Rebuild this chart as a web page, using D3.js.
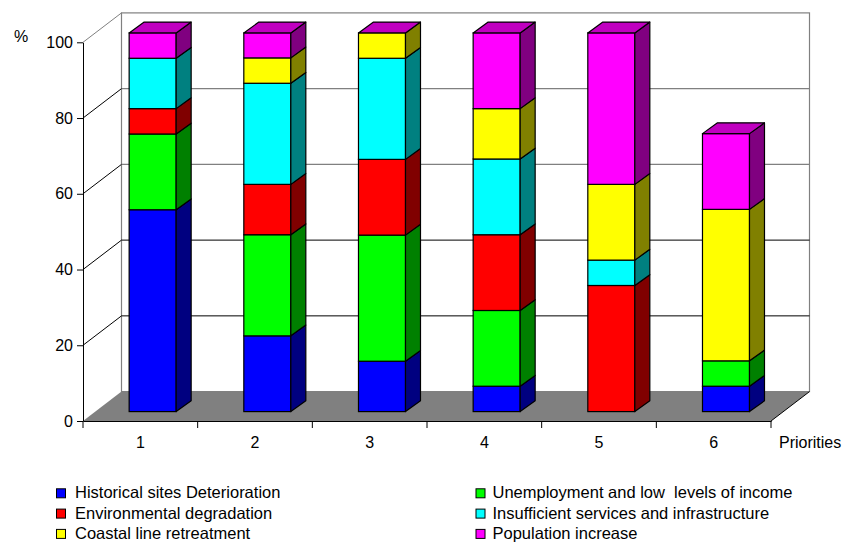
<!DOCTYPE html>
<html>
<head>
<meta charset="utf-8">
<script src="https://cdn.jsdelivr.net/npm/d3@7"></script>
<style>
  html, body { margin: 0; padding: 0; background: #fff; }
  svg { display: block; font-family: "Liberation Sans", Arial, sans-serif; }
</style>
</head>
<body>
<svg id="chart" width="845" height="542"></svg>
<script>
// ---- data ----
const categories = ["1", "2", "3", "4", "5", "6"];
const seriesNames = [
  "Historical sites Deterioration",
  "Unemployment and low  levels of income",
  "Environmental degradation",
  "Insufficient services and infrastructure",
  "Coastal line retreatment",
  "Population increase"
];
const historical   = [53.3, 20.0, 13.3,  6.7,  0.0,  6.7];
const unemployment = [20.0, 26.7, 33.3, 20.0,  0.0,  6.7];
const environment  = [ 6.7, 13.3, 20.0, 20.0, 33.3,  0.0];
const services     = [13.3, 26.7, 26.7, 20.0,  6.7,  0.0];
const coastal      = [ 0.0,  6.7,  6.7, 13.3, 20.0, 40.0];
const population   = [ 6.7,  6.6,  0.0, 20.0, 40.0, 20.0];
const yTicks = [0, 20, 40, 60, 80, 100];
const xAxisTitle = "Priorities";
const yAxisTitle = "%";

// ---- styles ----
const frontColors = ["#0000FF", "#00FF00", "#FF0000", "#00FFFF", "#FFFF00", "#FF00FF"];
const sideColors  = ["#000080", "#008000", "#800000", "#008080", "#808000", "#800080"];
const topColors   = ["#0000C0", "#00C000", "#C00000", "#00C0C0", "#C0C000", "#C000C0"];
const legendOrder = [0, 2, 4, 1, 3, 5];

const seriesValues = [historical, unemployment, environment, services, coastal, population];

const svg = d3.select("#chart");
const font = "16px";
const legFont = "16.5px";

// geometry
const DX = 38.5, DY = 29.4;          // floor depth offset
const frontFrac = 0.32;               // bar front plane depth fraction
const BDX = 15, BDY = 10.8;           // bar depth

const x = d3.scaleBand().domain(categories).range([83, 771])
  .paddingInner(0.59).paddingOuter(0.295);
const y = d3.scaleLinear().domain([0, 100]).range([421, 42.3]);

// back wall
svg.append("rect")
  .attr("x", 83 + DX).attr("y", y(100) - DY)
  .attr("width", (771 + DX) - (83 + DX)).attr("height", y(0) - y(100))
  .attr("fill", "#fff").attr("stroke", "#808080").attr("stroke-width", 1.2);

// floor
svg.append("polygon")
  .attr("points", [[83, y(0)], [83 + DX, y(0) - DY], [771 + DX, y(0) - DY], [771, y(0)]].join(" "))
  .attr("fill", "#808080").attr("stroke", "none");
svg.append("line")
  .attr("x1", 771).attr("y1", y(0)).attr("x2", 771 + DX).attr("y2", y(0) - DY)
  .attr("stroke", "#000").attr("stroke-width", 1);

// back wall gridlines
yTicks.filter(v => v > 0 && v < 100).forEach(v => {
  svg.append("line")
    .attr("x1", 83 + DX).attr("x2", 771 + DX)
    .attr("y1", y(v) - DY).attr("y2", y(v) - DY)
    .attr("stroke", v >= 60 ? "#808080" : "#000").attr("stroke-width", v >= 60 ? 1.4 : 1);
});
// side wall diagonals
yTicks.filter(v => v > 0).forEach(v => {
  svg.append("line")
    .attr("x1", 83).attr("y1", y(v))
    .attr("x2", 83 + DX).attr("y2", y(v) - DY)
    .attr("stroke", v === 100 ? "#808080" : "#000").attr("stroke-width", 1);
});

// bars
const ox = DX * frontFrac, oy = DY * frontFrac;
categories.forEach((c, i) => {
  const x0 = x(c) + ox, x1 = x0 + x.bandwidth();
  let cum = 0;
  const g = svg.append("g");
  seriesValues.forEach((vals, s) => {
    const v = vals[i];
    if (v <= 0) return;
    const yb = y(cum) - oy, yt = y(cum + v) - oy;
    cum += v;
    g.append("rect")
      .attr("x", x0).attr("y", yt).attr("width", x1 - x0).attr("height", yb - yt)
      .attr("fill", frontColors[s]).attr("stroke", "#000").attr("stroke-width", 1.2);
    g.append("polygon")
      .attr("points", [[x1, yt], [x1 + BDX, yt - BDY], [x1 + BDX, yb - BDY], [x1, yb]].join(" "))
      .attr("fill", sideColors[s]).attr("stroke", "#000").attr("stroke-width", 1.2)
      .attr("stroke-linejoin", "round");
  });
  const yt = y(cum) - oy;
  g.append("polygon")
    .attr("points", [[x0, yt], [x0 + BDX, yt - BDY], [x1 + BDX, yt - BDY], [x1, yt]].join(" "))
    .attr("fill", topColors[5]).attr("stroke", "#000").attr("stroke-width", 1.2)
    .attr("stroke-linejoin", "round");
});

// y axis
const yAxis = svg.append("g").attr("transform", "translate(83,0)")
  .call(d3.axisLeft(y).tickValues(yTicks).tickSize(6).tickSizeOuter(0).tickPadding(4));
yAxis.selectAll("text").attr("font-size", font).attr("font-family", "Liberation Sans, Arial, sans-serif").attr("fill", "#000");
yAxis.selectAll("line, path").attr("stroke", "#000");

// x axis
const xAxis = svg.append("g").attr("transform", `translate(0,${y(0)})`)
  .call(d3.axisBottom(x).tickSize(0).tickSizeOuter(0).tickPadding(15.5));
xAxis.selectAll("text").attr("font-size", font).attr("font-family", "Liberation Sans, Arial, sans-serif").attr("fill", "#000");
xAxis.select("path").attr("stroke", "#000");
d3.range(categories.length + 1).forEach(k => {
  const xx = x.range()[0] + k * x.step();
  xAxis.append("line").attr("x1", xx).attr("x2", xx).attr("y1", 0).attr("y2", 7)
    .attr("stroke", "#000");
});

// axis titles
svg.append("text").attr("x", 779).attr("y", 448).attr("font-size", font).text(xAxisTitle);
svg.append("text").attr("x", 14).attr("y", 42).attr("font-size", font).text(yAxisTitle);

// legend
const legCols = [{mx: 56.5, tx: 75}, {mx: 476, tx: 492.5}];
const legBase = [498.3, 518.6, 538.9];
legendOrder.forEach((s, k) => {
  const col = legCols[Math.floor(k / 3)], row = k % 3;
  svg.append("rect")
    .attr("x", col.mx).attr("y", legBase[row] - 9.5).attr("width", 9).attr("height", 9)
    .attr("fill", frontColors[s]).attr("stroke", "#000").attr("stroke-width", 1);
  svg.append("text")
    .attr("x", col.tx).attr("y", legBase[row])
    .attr("font-size", legFont).style("white-space", "pre")
    .text(seriesNames[s]);
});
</script>
</body>
</html>
